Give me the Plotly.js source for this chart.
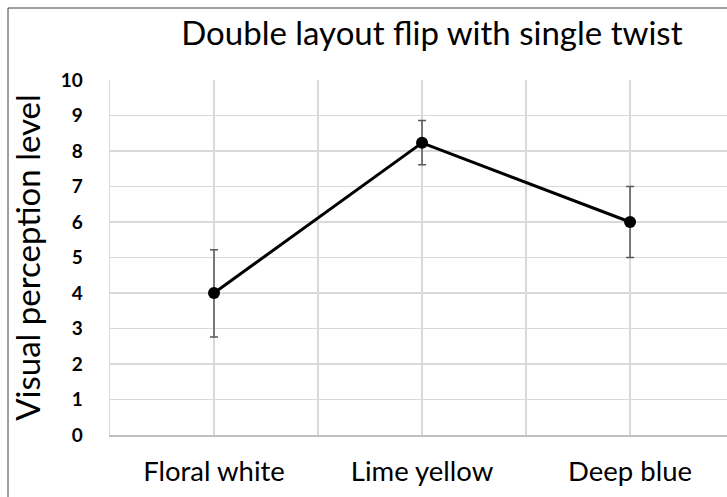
<!DOCTYPE html>
<html>
<head>
<meta charset="utf-8">
<script src="https://cdn.plot.ly/plotly-3.0.1.min.js"></script>
<style>
html,body{margin:0;padding:0;background:#fff;}
#chart{width:727px;height:497px;}
</style>
</head>
<body>
<div id="chart"></div>
<script>
const categories = ["Floral white", "Lime yellow", "Deep blue"];
const values = [4, 8.23, 6];
const errPlus = [1.22, 0.63, 1.0];
const errMinus = [1.24, 0.62, 1.0];
const yTicks = [0,1,2,3,4,5,6,7,8,9,10];
const titleText = "Double layout flip with single twist";
const yTitle = "Visual perception level";

const xIdx = categories.map((c, i) => i);

const trace = {
  type: "scatter",
  mode: "lines+markers",
  x: xIdx,
  y: values,
  line: {color: "#000000", width: 3},
  marker: {color: "#000000", size: 12},
  error_y: {
    type: "data",
    symmetric: false,
    array: errPlus,
    arrayminus: errMinus,
    color: "#595959",
    thickness: 1.5,
    width: 4
  },
  hoverinfo: "skip",
  showlegend: false
};

const font = "Lato, 'Noto Sans', sans-serif";

const layout = {
  width: 727,
  height: 497,
  margin: {l: 110, r: 0, t: 80, b: 62, pad: 0},
  paper_bgcolor: "#ffffff",
  plot_bgcolor: "#ffffff",
  font: {family: font, color: "#000000"},
  title: {
    text: titleText,
    font: {family: font, size: 33, color: "#000000"},
    xref: "container", x: 0.594, xanchor: "center",
    yref: "container", y: 0.932, yanchor: "middle"
  },
  xaxis: {
    range: [-0.5, 2.466],
    tickvals: xIdx,
    ticktext: categories,
    tickfont: {family: font, size: 27.5, color: "#000000"},
    showgrid: true,
    gridcolor: "#d9d9d9",
    gridwidth: 1.5,
    zeroline: false,
    showline: true,
    linecolor: "#bfbfbf",
    linewidth: 1.5,
    ticks: "",
    ticklabelstandoff: 11,
    minor: {tickvals: [-0.5, 0.5, 1.5, 2.5], showgrid: true, gridcolor: "#d9d9d9", gridwidth: 1.5, ticks: ""},
    fixedrange: true
  },
  yaxis: {
    range: [0, 10],
    tickvals: yTicks,
    ticktext: yTicks.map(String),
    tickfont: {family: font, size: 19, color: "#000000", weight: "bold"},
    showgrid: true,
    gridcolor: "#d9d9d9",
    gridwidth: 1.5,
    zeroline: false,
    showline: true,
    linecolor: "#d9d9d9",
    linewidth: 1.5,
    ticks: "",
    ticklabelstandoff: 22,
    title: {text: yTitle, font: {family: font, size: 33, color: "#000000"}, standoff: 10},
    fixedrange: true
  },
  shapes: [
    {type: "line", xref: "paper", yref: "paper", x0: -0.1653, x1: -0.1653, y0: -0.3, y1: 1.2028, line: {color: "#404040", width: 1}},
    {type: "line", xref: "paper", yref: "paper", x0: -0.1653, x1: 1.1, y0: 1.2028, y1: 1.2028, line: {color: "#404040", width: 1}}
  ]
};

Plotly.newPlot("chart", [trace], layout, {displayModeBar: false, staticPlot: true});
</script>
</body>
</html>
